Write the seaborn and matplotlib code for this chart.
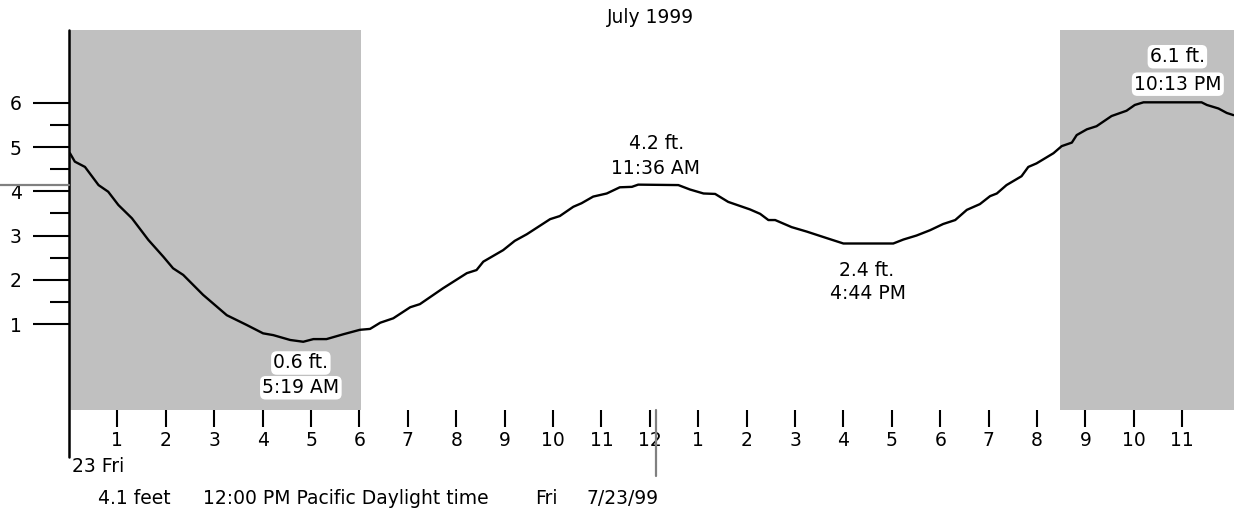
import matplotlib
matplotlib.use("Agg")
import matplotlib.pyplot as plt
import seaborn as sns
import pandas as pd
from matplotlib.ticker import FixedLocator

# ---------------- data ----------------
hours = [0.02, 0.12, 0.33, 0.61, 0.81, 1.02, 1.30, 1.64, 1.95, 2.15, 2.36, 2.77, 3.26, 3.67,
         4.01, 4.22, 4.57, 4.84, 5.05, 5.32, 5.67, 6.01, 6.22, 6.43, 6.70, 7.05, 7.25, 7.73,
         8.22, 8.42, 8.56, 8.97, 9.21, 9.46, 9.94, 10.14, 10.42, 10.59, 10.83, 11.11, 11.38,
         11.63, 11.76, 12.59, 12.83, 13.11, 13.35, 13.62, 14.07, 14.28, 14.45, 14.59, 14.93,
         15.24, 15.66, 16.00, 17.03, 17.24, 17.51, 17.79, 18.06, 18.31, 18.55, 18.82, 19.03,
         19.17, 19.37, 19.68, 19.82, 19.99, 20.34, 20.51, 20.72, 20.82, 21.03, 21.23, 21.54,
         21.85, 22.02, 22.20, 23.40, 23.51, 23.75, 23.92, 24.06]
height_ft = [4.86, 4.67, 4.55, 4.14, 3.99, 3.69, 3.39, 2.90, 2.52, 2.26, 2.11, 1.66, 1.20, 0.98,
             0.79, 0.75, 0.64, 0.60, 0.66, 0.66, 0.77, 0.87, 0.89, 1.03, 1.13, 1.38, 1.45, 1.81,
             2.15, 2.22, 2.41, 2.67, 2.88, 3.03, 3.37, 3.44, 3.65, 3.73, 3.88, 3.95, 4.09,
             4.10, 4.15, 4.14, 4.04, 3.95, 3.94, 3.76, 3.59, 3.49, 3.35, 3.35, 3.19,
             3.09, 2.94, 2.82, 2.82, 2.91, 3.00, 3.12, 3.26, 3.35, 3.58, 3.71, 3.89,
             3.95, 4.14, 4.34, 4.55, 4.63, 4.86, 5.02, 5.10, 5.27, 5.40, 5.47, 5.70,
             5.82, 5.95, 6.01, 6.01, 5.95, 5.87, 5.77, 5.72]

night_spans = [(0.0, 6.03), (20.48, 24.07)]

tick_hours = list(range(1, 24))
tick_labels = [str(h if h <= 12 else h - 12) for h in tick_hours]

extreme_heights = ["0.6 ft.", "4.2 ft.", "2.4 ft.", "6.1 ft."]
extreme_times = ["5:19 AM", "11:36 AM", "4:44 PM", "10:13 PM"]

cursor_hour = 12.12
cursor_height = 4.14

title_text = "July 1999"
day_text = "23 Fri"
status_parts = ["4.1 feet", "12:00 PM Pacific Daylight time", "Fri", "7/23/99"]

# ---------------- layout / style ----------------
W, H = 1244, 520
sns.set_style("white")
plt.rcParams["font.family"] = ["DejaVu Sans"]
plt.rcParams["text.color"] = "black"
FS = 13.5

fig = plt.figure(figsize=(W / 100, H / 100), dpi=100)
ax_l, ax_r, ax_t, ax_b = 69, 1234, 30, 410
ax = fig.add_axes([ax_l / W, 1 - ax_b / H, (ax_r - ax_l) / W, (ax_b - ax_t) / H])
ax.set_xlim(0, 24.07)
ax.set_ylim(-0.942, 7.644)

for x0, x1 in night_spans:
    ax.axvspan(x0, x1, color="#c0c0c0", lw=0, zorder=0)

df = pd.DataFrame({"hour": hours, "height": height_ft})
sns.lineplot(data=df, x="hour", y="height", ax=ax, color="black", lw=1.7, zorder=3)

for s in ax.spines.values():
    s.set_visible(False)
ax.axvline(0, ymin=-0.124, ymax=1, color="black", lw=1.8, clip_on=False, zorder=4)

ax.set_xlabel("")
ax.set_ylabel("")
ax.yaxis.set_major_locator(FixedLocator([1, 2, 3, 4, 5, 6]))
ax.yaxis.set_minor_locator(FixedLocator([1.5, 2.5, 3.5, 4.5, 5.5]))
ax.set_yticklabels(["1", "2", "3", "4", "5", "6"])
ax.tick_params(axis="y", which="major", direction="out", length=26, width=1.5,
               pad=8, labelsize=FS, colors="black", left=True)
ax.tick_params(axis="y", which="minor", direction="out", length=13.7, width=1.5,
               colors="black", left=True)
ax.set_xticks(tick_hours)
ax.set_xticklabels(tick_labels)
ax.tick_params(axis="x", which="major", direction="out", length=12, width=1.5,
               pad=3, labelsize=FS, colors="black", bottom=True)

# extremes annotations
ann_pos = [((4.79, 0.12), (4.79, -0.44)),
           ((12.13, 5.09), (12.12, 4.52)),
           ((16.47, 2.22), (16.50, 1.68)),
           ((22.90, 7.04), (22.91, 6.42))]
box = dict(boxstyle="round,pad=0.12,rounding_size=0.3", fc="white", ec="none")
for txt_h, txt_t, (p1, p2) in zip(extreme_heights, extreme_times, ann_pos):
    ax.text(p1[0], p1[1], txt_h, ha="center", va="center", fontsize=FS, color="black",
            bbox=box, zorder=5)
    ax.text(p2[0], p2[1], txt_t, ha="center", va="center", fontsize=FS, color="black",
            bbox=box, zorder=5)

# cursor
ax.plot([-1.43, 0], [cursor_height, cursor_height], color="#808080", lw=1.6,
        clip_on=False, zorder=5)
ax.plot([cursor_hour, cursor_hour], [-0.94, -2.43], color="#808080", lw=1.6,
        clip_on=False, zorder=5)

fig.text(651 / W, 1 - 17.5 / H, title_text, ha="center", va="center", fontsize=FS,
         color="black")
fig.text(72 / W, 1 - 466 / H, day_text, ha="left", va="center", fontsize=FS, color="black")
for xp, part in zip([98, 203, 535, 587], status_parts):
    fig.text(xp / W, 1 - 498 / H, part, ha="left", va="center", fontsize=FS, color="black")

fig.savefig("out.png", dpi=100)
